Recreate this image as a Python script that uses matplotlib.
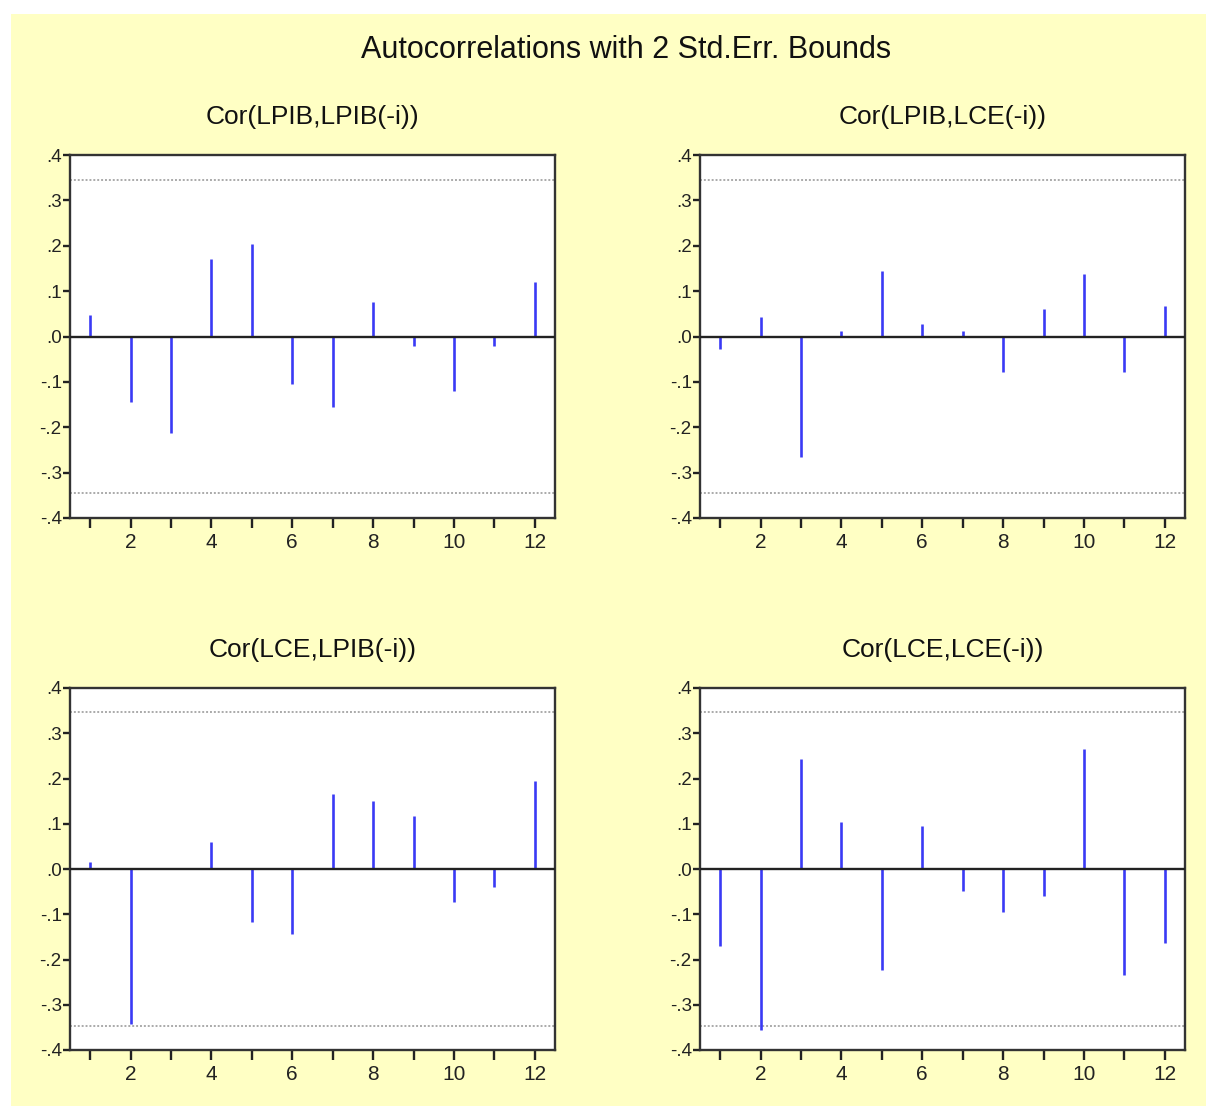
import matplotlib
matplotlib.use("Agg")
import matplotlib.pyplot as plt
from matplotlib.patches import Rectangle

# Lags 1..12 and correlations
lags = list(range(1, 13))
cor_lpib_lpib = [0.047, -0.145, -0.212, 0.170, 0.203, -0.105, -0.156, 0.075, -0.020, -0.120, -0.020, 0.120]
cor_lpib_lce = [-0.027, 0.042, -0.265, 0.013, 0.145, 0.028, 0.013, -0.078, 0.060, 0.137, -0.078, 0.068]
cor_lce_lpib = [0.016, -0.342, 0.0, 0.060, -0.118, -0.144, 0.165, 0.150, 0.117, -0.074, -0.039, 0.195]
cor_lce_lce = [-0.171, -0.355, 0.244, 0.104, -0.224, 0.095, -0.048, -0.096, -0.059, 0.266, -0.235, -0.164]

titles = ["Cor(LPIB,LPIB(-i))", "Cor(LPIB,LCE(-i))", "Cor(LCE,LPIB(-i))", "Cor(LCE,LCE(-i))"]
series = [cor_lpib_lpib, cor_lpib_lce, cor_lce_lpib, cor_lce_lce]

bound = 0.346
y_ticks = [0.4, 0.3, 0.2, 0.1, 0.0, -0.1, -0.2, -0.3, -0.4]
y_labels = [".4", ".3", ".2", ".1", ".0", "-.1", "-.2", "-.3", "-.4"]

plt.rcParams['font.family'] = ['Liberation Sans', 'DejaVu Sans']

W, H = 1210, 1106
fig = plt.figure(figsize=(W / 100, H / 100), dpi=100, facecolor="white")

# yellow panel behind everything
fig.patches.append(Rectangle((11 / W, 0), 1 - 11 / W - 4 / W, 1 - 14 / H,
                             transform=fig.transFigure, facecolor="#FFFFC4",
                             edgecolor="none", zorder=-5))

fig.text(626 / W, 1 - 50 / H, "Autocorrelations with 2 Std.Err. Bounds",
         ha="center", va="center", fontsize=22, color="#111111")

# axes boxes in pixels: left, top, right, bottom
boxes = [(70, 155, 555, 518), (700, 155, 1185, 518),
         (70, 688, 555, 1050), (700, 688, 1185, 1050)]

for box, vals, title in zip(boxes, series, titles):
    l, t, r, b = box
    ax = fig.add_axes([l / W, 1 - b / H, (r - l) / W, (b - t) / H])
    ax.set_facecolor("white")
    ax.vlines(lags, 0, vals, color="#3A3AF5", linewidth=1.9, zorder=3)
    ax.axhline(0, color="#222222", linewidth=1.7, zorder=4)
    ax.axhline(bound, color="#AAAAAA", linewidth=1.4, linestyle=(0, (1, 1)), zorder=2)
    ax.axhline(-bound, color="#AAAAAA", linewidth=1.4, linestyle=(0, (1, 1)), zorder=2)
    ax.set_xlim(0.5, 12.5)
    ax.set_ylim(-0.4, 0.4)
    ax.set_xticks(lags)
    ax.set_xticklabels([str(i) if i % 2 == 0 else "" for i in lags])
    ax.set_yticks(y_ticks)
    ax.set_yticklabels(y_labels)
    ax.tick_params(axis="x", direction="out", length=7, width=1.7, labelsize=15,
                   colors="#222222", pad=4)
    ax.tick_params(axis="y", direction="out", length=5, width=1.7, labelsize=13.5,
                   colors="#222222", pad=1)
    for s in ax.spines.values():
        s.set_linewidth(1.7)
        s.set_color("#333333")
    fig.text((l + r) / 2 / W, 1 - (t - 38) / H, title, ha="center", va="center",
             fontsize=19, color="#111111")

fig.savefig("out.png", dpi=100, facecolor="white")
